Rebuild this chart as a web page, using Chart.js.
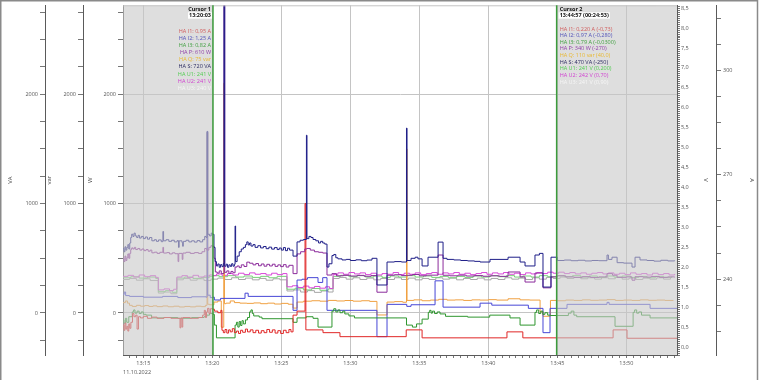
<!DOCTYPE html>
<html><head><meta charset="utf-8">
<script src="https://cdn.jsdelivr.net/npm/chart.js@4"></script>
<style>html,body{margin:0;padding:0;background:#fff}canvas{display:block}</style>
</head><body>
<canvas id="c" width="760" height="380"></canvas>
<script>
// time in minutes after 13:00
const DATE_LABEL = '11.10.2022';
const CURSOR1 = 20.05;   // 13:20:03
const CURSOR2 = 44.95;   // 13:44:57
const POWER_TICKS = [-250,0,250,500,750,1000,1250,1500,1750,2000,2250,2500,2750];
const POWER_LABELS = [0,1000,2000];
const cursor1Text = ['Cursor 1','13:20:03','HA I1: 0,95 A','HA I2: 1,25 A','HA I3: 0,82 A','HA P: 610 W','HA Q: 75 var','HA S: 720 VA','HA U1: 241 V','HA U2: 241 V','HA U3: 240 V'];
const cursor2Text = ['Cursor 2','13:44:57 (00:24:53)','HA I1: 0,220 A (-0,73)','HA I2: 0,97 A (-0,280)','HA I3: 0,79 A (-0,0300)','HA P: 340 W (-270)','HA Q: 110 var (40,0)','HA S: 470 VA (-250)','HA U1: 241 V (0,200)','HA U2: 242 V (0,70)','HA U3: 241 V (0,90)'];

const S_VA = [[13.53,590],[13.60,560],[13.67,605],[13.74,575],[13.81,600],[13.88,625],[13.95,585],[14.02,640],[14.09,690],[14.16,720],[14.25,700],[14.33,730],[14.42,705],[14.52,690],[14.62,710],[14.72,685],[14.85,700],[15.00,680],[15.15,695],[15.30,675],[15.45,690],[15.62,660],[15.80,670],[15.95,655],[16.10,668],[16.30,652],[16.42,745],[16.47,660],[16.65,670],[16.85,655],[17.05,665],[17.25,650],[17.45,662],[17.55,600],[17.60,660],[17.80,645],[17.85,610],[17.90,655],[18.10,665],[18.30,650],[18.50,660],[18.70,648],[18.90,662],[19.10,650],[19.30,670],[19.45,700],[19.55,690],[19.62,1660],[19.67,720],[19.80,705],[19.92,730],[20.00,720],
[20.12,600],[20.20,470],[20.30,430],[20.40,448],[20.50,418],[20.60,442],[20.70,424],[20.80,452],[20.85,3000],[20.90,428],[21.00,446],[21.10,418],[21.20,440],[21.30,426],[21.40,450],[21.50,428],[21.60,445],[21.65,795],[21.69,470],[21.80,520],[21.95,560],[22.10,585],[22.25,600],[22.40,625],[22.50,650],[22.60,622],[22.70,640],[22.80,612],[22.95,625],[23.10,600],[23.30,615],[23.50,595],[23.70,608],[23.90,588],[24.10,602],[24.30,584],[24.50,598],[24.70,580],[24.85,594],[25.00,575],[25.15,598],[25.30,570],[25.45,592],[25.60,575],[25.85,520],[26.14,650],[26.36,665],[26.60,672],[26.82,1625],[26.86,680],[27.00,700],[27.15,690],[27.30,672],[27.50,660],[27.70,640],[27.85,655],[28.00,640],[28.15,630],[28.31,420],[28.45,450],[28.67,525],[28.80,535],[28.95,505],[29.10,495],[29.40,485],[29.70,490],[30.00,480],[30.40,486],[30.80,478],[31.20,484],[31.57,500],[31.93,256],[32.66,466],[33.20,470],[33.70,466],[34.07,1690],[34.11,480],[34.40,500],[34.70,510],[34.90,495],[35.20,430],[35.63,510],[36.36,648],[36.72,500],[37.00,490],[37.50,485],[38.00,480],[38.50,476],[39.00,472],[39.40,466],[40.12,490],[41.43,510],[42.30,466],[42.66,430],[43.38,530],[43.70,545],[43.96,237],[44.54,510],[45.00,480],[45.50,484],[46.00,478],[46.50,482],[47.00,476],[47.50,480],[48.00,478],[48.60,530],[48.70,490],[48.96,510],[49.33,460],[49.80,456],[50.41,420],[50.63,510],[50.99,485],[51.50,480],[52.00,474],[52.50,482],[53.00,476],[53.50,480]];

const P_W = [[13.53,500],[13.60,470],[13.67,520],[13.74,480],[13.81,505],[13.88,540],[13.95,500],[14.02,545],[14.09,580],[14.16,595],[14.25,585],[14.35,600],[14.45,580],[14.60,590],[14.75,575],[14.90,585],[15.05,570],[15.20,580],[15.35,565],[15.50,575],[15.62,550],[15.80,556],[16.00,545],[16.20,555],[16.42,600],[16.47,548],[16.70,552],[16.90,540],[17.10,550],[17.30,542],[17.52,470],[17.57,545],[17.82,490],[17.87,548],[18.10,555],[18.40,545],[18.70,552],[19.00,545],[19.25,560],[19.45,590],[19.60,575],[19.75,600],[19.90,615],[20.00,610],
[20.12,500],[20.22,375],[20.35,365],[20.50,385],[20.65,360],[20.85,2900],[20.90,372],[21.05,385],[21.20,362],[21.35,380],[21.50,368],[21.65,420],[21.80,430],[21.95,415],[22.10,440],[22.30,425],[22.50,465],[22.70,455],[22.95,440],[23.15,452],[23.35,432],[23.55,448],[23.75,428],[23.95,445],[24.15,430],[24.35,446],[24.55,426],[24.75,440],[24.95,424],[25.15,442],[25.35,420],[25.55,436],[25.85,360],[26.14,540],[26.40,560],[26.70,585],[26.85,590],[27.10,575],[27.40,560],[27.70,555],[28.00,548],[28.31,347],[28.67,360],[29.00,340],[29.50,345],[30.00,338],[30.50,344],[31.00,336],[31.50,342],[31.93,190],[32.66,345],[33.20,350],[33.70,342],[34.07,345],[34.50,352],[35.00,340],[35.50,346],[36.36,530],[36.72,345],[37.20,340],[37.80,346],[38.40,338],[39.00,342],[39.60,336],[40.20,340],[40.80,335],[41.43,375],[42.30,330],[42.66,283],[43.38,365],[43.96,230],[44.54,330],[45.00,340],[45.60,330],[46.20,326],[46.80,332],[47.40,325],[48.00,330],[48.60,360],[49.00,345],[49.33,326],[50.00,330],[50.41,300],[50.63,332],[51.20,328],[51.80,334],[52.40,326],[53.00,330],[53.50,326]];

const Q_VAR = [[13.53,95],[13.70,110],[13.85,90],[14.00,70],[14.20,60],[14.50,70],[14.80,62],[15.10,68],[15.40,60],[15.70,65],[16.00,58],[16.40,64],[16.80,57],[17.20,62],[17.60,55],[18.00,60],[18.40,56],[18.80,62],[19.20,58],[19.50,70],[19.62,1650],[19.67,80],[19.80,75],[20.05,75],[20.12,100],[20.40,110],[20.65,-130],[20.83,2100],[20.88,85],[21.00,90],[21.30,110],[21.60,95],[22.00,90],[22.50,88],[23.00,92],[23.50,85],[24.00,90],[24.50,82],[25.00,88],[25.50,80],[25.85,45],[26.14,100],[26.60,108],[27.20,112],[27.80,108],[28.40,115],[29.00,110],[29.60,114],[30.20,108],[30.80,112],[31.40,106],[31.93,-18],[32.66,100],[33.20,104],[33.80,98],[34.07,1500],[34.11,115],[34.60,120],[35.20,112],[35.80,118],[36.40,125],[37.00,118],[37.60,120],[38.20,115],[38.80,120],[39.40,118],[40.00,122],[40.60,118],[41.43,130],[42.30,120],[43.00,118],[43.75,10],[43.96,-30],[44.50,115],[45.00,112],[45.60,118],[46.20,115],[46.80,120],[47.40,116],[48.00,118],[48.60,122],[49.20,115],[49.80,118],[50.40,115],[51.00,120],[51.60,116],[52.20,118],[52.80,115],[53.40,118]];

const I1_A = [[13.53,0.55],[13.60,0.42],[13.67,0.60],[13.74,0.45],[13.81,0.52],[13.88,0.40],[13.95,0.58],[14.02,0.47],[14.10,0.62],[14.22,0.84],[14.32,0.76],[14.45,0.80],[14.55,0.45],[14.65,0.76],[14.80,0.73],[15.00,0.77],[15.30,0.72],[15.60,0.75],[16.00,0.72],[16.50,0.74],[17.00,0.72],[17.66,0.48],[17.72,0.73],[17.80,0.50],[17.86,0.74],[18.40,0.72],[19.00,0.74],[19.30,0.80],[19.42,0.92],[19.50,0.74],[19.58,0.88],[19.66,0.97],[19.76,0.84],[19.86,0.96],[20.05,0.95],
[20.15,0.90],[20.40,0.86],[20.62,0.92],[20.70,0.42],[20.80,0.36],[20.92,0.44],[21.05,0.35],[21.18,0.43],[21.30,0.38],[21.45,0.46],[21.60,0.36],[21.75,0.40],[21.90,0.34],[22.05,0.42],[22.20,0.37],[22.40,0.45],[22.55,0.38],[22.75,0.43],[22.95,0.36],[23.15,0.42],[23.35,0.35],[23.55,0.41],[23.75,0.36],[23.95,0.44],[24.15,0.37],[24.35,0.43],[24.55,0.35],[24.75,0.41],[24.95,0.34],[25.15,0.42],[25.35,0.36],[25.55,0.44],[25.70,0.38],[25.85,0.80],[26.14,0.90],[26.72,3.6],[26.78,0.43],[28.02,0.36],[29.25,0.26],[34.05,0.43],[35.20,0.23],[41.35,0.38],[42.50,0.23],[49.04,0.43],[50.05,0.22],[53.67,0.22]];

const I2_A = [[13.53,1.32],[13.62,1.38],[13.72,1.29],[14.00,1.27],[15.00,1.25],[16.40,1.27],[17.50,1.24],[18.50,1.26],[19.55,1.25],[19.62,5.4],[19.67,1.30],[19.85,1.24],[20.05,1.25],[20.15,1.18],[20.60,1.22],[22.37,1.35],[22.60,1.27],[25.85,0.92],[26.14,1.68],[26.50,1.70],[26.90,1.74],[27.66,1.62],[28.00,1.74],[28.31,0.92],[31.93,0.26],[32.66,1.07],[34.09,1.02],[34.40,1.06],[36.14,1.66],[36.72,1.00],[39.40,1.10],[40.25,1.05],[42.90,0.97],[43.96,0.36],[44.47,0.97],[45.70,1.07],[48.60,1.12],[48.75,1.07],[51.72,0.97],[53.67,0.97]];

const I3_A = [[13.53,0.68],[13.60,0.60],[13.70,0.72],[13.80,0.62],[13.95,0.76],[14.20,0.88],[14.30,0.93],[14.40,0.85],[14.55,0.90],[14.70,0.84],[14.85,0.88],[15.00,0.82],[15.20,0.80],[15.60,0.73],[16.50,0.74],[17.50,0.72],[18.50,0.74],[19.40,0.76],[19.60,0.80],[19.80,0.84],[20.05,0.82],[20.15,0.55],[20.30,0.23],[21.65,0.55],[21.75,0.62],[21.85,0.50],[21.95,0.64],[22.05,0.54],[22.15,0.66],[22.25,0.58],[22.40,0.68],[22.55,0.74],[22.70,0.88],[22.80,0.93],[22.90,0.84],[23.00,0.78],[23.40,0.75],[23.60,0.71],[25.85,0.62],[26.14,0.73],[26.80,0.76],[27.30,0.72],[27.66,0.50],[28.67,0.90],[28.80,0.96],[28.95,0.88],[29.10,0.93],[29.25,0.86],[29.45,0.90],[29.60,0.83],[29.90,0.78],[30.30,0.73],[34.07,0.55],[34.50,0.50],[34.80,0.58],[35.20,0.70],[35.65,0.87],[35.75,0.92],[35.85,0.85],[35.95,0.90],[36.10,0.84],[36.30,0.88],[36.50,0.83],[36.90,0.77],[38.50,0.75],[39.40,0.75],[40.10,0.80],[41.57,0.73],[42.30,0.55],[43.38,0.87],[43.50,0.93],[43.65,0.84],[43.80,0.90],[43.95,0.82],[44.10,0.86],[44.30,0.80],[44.50,0.79],[45.80,0.85],[46.00,0.90],[46.20,0.80],[46.40,0.76],[49.18,0.52],[50.49,0.87],[50.60,0.93],[50.75,0.85],[50.90,0.88],[51.10,0.80],[51.72,0.73],[53.67,0.73]];

const U1_V = [[13.53,240.4],[14.1,240.7],[14.7,240.3],[15.3,240.6],[15.9,240.2],[16.09,236.4],[16.6,236.7],[17.1,236.2],[17.43,240.3],[18.0,240.6],[18.6,240.2],[19.2,240.5],[19.8,240.8],[20.05,241.0],[20.5,240.7],[21.1,241.0],[21.7,240.6],[22.3,240.9],[22.9,240.5],[23.5,240.8],[24.1,240.4],[24.7,240.8],[25.41,237.1],[26.0,237.4],[26.6,236.9],[27.2,237.3],[27.8,236.8],[28.4,237.2],[28.75,240.8],[29.3,241.1],[29.9,240.7],[30.5,241.0],[31.1,240.6],[31.7,240.9],[32.3,240.5],[32.9,240.9],[33.5,240.6],[34.1,241.0],[34.7,240.6],[35.3,240.9],[35.9,240.5],[36.5,240.8],[37.1,240.4],[37.7,240.8],[38.3,240.5],[38.9,240.9],[39.5,240.6],[40.1,241.0],[40.7,240.7],[41.3,241.0],[41.9,240.6],[42.5,240.9],[43.1,240.6],[43.7,241.0],[44.3,240.7],[44.95,241.0],[45.5,240.7],[46.1,241.0],[46.7,240.6],[47.3,240.9],[47.9,240.5],[48.5,240.9],[49.1,240.6],[49.7,240.9],[50.3,240.5],[50.9,240.8],[51.5,240.4],[52.1,240.8],[52.7,240.5],[53.3,240.8]];

const U2_V = [[13.53,240.8],[13.9,241.1],[14.3,240.6],[14.7,241.2],[15.1,240.7],[15.5,241.0],[15.9,240.5],[16.09,236.9],[16.5,237.2],[16.9,236.7],[17.2,237.1],[17.43,240.6],[17.8,241.0],[18.2,240.5],[18.6,241.1],[19.0,240.6],[19.4,240.9],[19.8,241.2],[20.05,241.0],[20.3,241.5],[20.7,241.1],[21.1,241.6],[21.5,241.2],[21.9,241.7],[22.3,241.3],[22.7,241.8],[23.1,241.4],[23.5,241.6],[23.9,241.2],[24.3,241.7],[24.7,241.3],[25.1,241.6],[25.41,237.8],[25.8,238.1],[26.2,237.6],[26.6,238.0],[27.0,237.5],[27.4,237.9],[27.8,237.4],[28.2,237.8],[28.5,237.3],[28.75,241.3],[29.1,241.8],[29.5,241.4],[29.9,241.9],[30.3,241.5],[30.7,241.8],[31.1,241.3],[31.5,241.7],[31.9,241.2],[32.3,241.6],[32.7,241.4],[33.1,241.9],[33.5,241.3],[33.9,241.7],[34.3,241.4],[34.7,241.8],[35.1,241.3],[35.5,241.6],[35.9,241.9],[36.3,241.4],[36.7,241.8],[37.1,241.5],[37.5,241.9],[37.9,241.4],[38.3,241.7],[38.7,241.3],[39.1,241.6],[39.5,241.9],[39.9,241.4],[40.3,241.8],[40.7,241.5],[41.1,241.9],[41.5,241.4],[41.9,241.7],[42.3,241.3],[42.7,241.8],[43.1,241.5],[43.5,241.9],[43.9,241.6],[44.3,242.0],[44.7,241.7],[45.1,242.0],[45.5,241.6],[45.9,241.9],[46.3,241.5],[46.7,241.8],[47.1,241.4],[47.5,241.7],[47.9,241.9],[48.3,241.5],[48.7,241.8],[49.1,241.4],[49.5,241.7],[49.9,241.3],[50.3,241.8],[50.7,241.4],[51.1,241.6],[51.5,241.2],[51.9,241.7],[52.3,241.3],[52.7,241.6],[53.1,241.2],[53.5,241.5]];

const U3_V = [[13.53,239.9],[14.0,240.2],[14.5,239.7],[15.0,240.1],[15.5,239.6],[16.09,236.0],[16.5,236.3],[17.0,235.8],[17.43,239.8],[17.9,240.2],[18.4,239.7],[18.9,240.1],[19.4,239.6],[19.9,240.0],[20.4,240.3],[20.9,239.9],[21.4,240.4],[21.9,239.9],[22.4,240.3],[22.9,239.8],[23.4,240.2],[23.9,239.7],[24.4,240.1],[24.9,239.8],[25.41,236.6],[25.9,236.9],[26.4,236.3],[26.9,236.7],[27.4,236.2],[27.9,236.6],[28.4,236.3],[28.75,240.2],[29.2,240.5],[29.7,240.0],[30.2,240.4],[30.7,239.9],[31.2,240.3],[31.7,239.8],[32.2,240.2],[32.7,239.9],[33.2,240.4],[33.7,239.9],[34.2,240.3],[34.7,239.8],[35.2,240.2],[35.7,239.9],[36.2,240.4],[36.7,240.0],[37.2,240.3],[37.7,239.8],[38.2,240.2],[38.7,239.9],[39.2,240.3],[39.7,239.8],[40.2,240.2],[40.7,239.9],[41.2,240.4],[41.7,240.0],[42.2,240.3],[42.7,239.9],[43.2,240.4],[43.7,240.0],[44.2,240.5],[44.7,240.2],[45.2,240.6],[45.7,240.2],[46.2,240.5],[46.7,240.1],[47.2,240.4],[47.7,240.0],[48.2,240.4],[48.7,240.1],[49.2,240.5],[49.7,240.0],[50.2,240.3],[50.7,239.9],[51.2,240.3],[51.7,240.0],[52.2,240.4],[52.7,240.0],[53.2,240.3]];

// ---------- styles ----------
const FONT = "'Open Sans','Noto Sans',sans-serif";
const TXT = '#555';
const AXIS = '#5a5a5a';
const cursorTextColors = ['#111','#111','#d05a5a','#5050b8','#3e9e3e','#9040a8','#e8b830','#2a2a60','#50cc50','#d040d0','#f6f6f6'];

const toXY = a => a.map(p => ({x: p[0], y: p[1]}));
const line = (label, data, color, axis) => ({label, data: toXY(data), borderColor: color, backgroundColor: color,
  yAxisID: axis, borderWidth: 1, pointRadius: 0, stepped: true, fill: false});

const near = (v, m) => Math.abs(v / m - Math.round(v / m)) < 1e-6;
const yLeft = (weight, title, width, pad) => ({
  type: 'linear', position: 'left', weight, min: -384, max: 2813,
  afterFit: s => { s.width = width; },
  afterBuildTicks: s => { s.ticks = POWER_TICKS.map(v => ({value: v})); },
  ticks: {autoSkip: false, color: TXT, font: {size: 5.5, family: FONT}, padding: 2,
    callback: v => POWER_LABELS.includes(v) ? String(v) : ''},
  grid: {drawOnChartArea: weight === 0,
    color: c => (c.tick && POWER_LABELS.includes(c.tick.value)) ? '#c4c4c4' : 'rgba(0,0,0,0)',
    tickColor: '#777', tickLength: 5},
  border: {color: AXIS},
  title: {display: true, text: title, color: '#444', font: {size: 6, family: FONT}, padding: {top: pad, bottom: 0}}
});

const cursorPlugin = {
  id: 'cursors',
  afterDatasetsDraw(chart) {
    const {ctx, chartArea: a, scales: {x}} = chart;
    const x1 = x.getPixelForValue(CURSOR1), x2 = x.getPixelForValue(CURSOR2);
    ctx.save();
    ctx.fillStyle = 'rgba(200,200,200,0.6)';
    ctx.fillRect(a.left, a.top, x1 - a.left, a.bottom - a.top);
    ctx.fillRect(x2, a.top, a.right - x2, a.bottom - a.top);
    ctx.strokeStyle = '#c4c4c4'; ctx.lineWidth = 1;
    ctx.beginPath(); ctx.moveTo(a.left, a.top + 0.5); ctx.lineTo(a.right, a.top + 0.5); ctx.stroke();
    ctx.strokeStyle = '#3c9c3c'; ctx.lineWidth = 1.5;
    ctx.beginPath(); ctx.moveTo(x1, a.top); ctx.lineTo(x1, a.bottom); ctx.stroke();
    ctx.beginPath(); ctx.moveTo(x2, a.top); ctx.lineTo(x2, a.bottom); ctx.stroke();
    const ys1 = [9, 15.5, 31, 38, 45, 52, 59, 66.5, 74, 81, 88];
    const ys2 = [9, 15.5, 29, 35.6, 42.2, 48.8, 55.4, 62, 68.6, 75.2, 82];
    ctx.textBaseline = 'middle';
    const drawBlock = (lines, ys, xx, align) => {
      ctx.textAlign = align;
      lines.forEach((t, i) => {
        ctx.font = (i < 2 ? 'bold ' : '') + '5.5px ' + FONT;
        if (i === 1) {
          const w = ctx.measureText(t).width;
          ctx.fillStyle = '#fff';
          ctx.fillRect(align === 'right' ? xx - w - 1 : xx - 1, ys[i] - 3.2, w + 2, 6.4);
        }
        ctx.fillStyle = cursorTextColors[i];
        ctx.fillText(t, xx, ys[i]);
      });
    };
    drawBlock(cursor1Text, ys1, x1 - 2, 'right');
    drawBlock(cursor2Text, ys2, x2 + 3, 'left');
    ctx.restore();
  },
  afterDraw(chart) {
    const ctx = chart.ctx;
    ctx.save();
    ctx.strokeStyle = '#8a8a8a'; ctx.lineWidth = 1.5;
    ctx.beginPath(); ctx.moveTo(0, 0.75); ctx.lineTo(758, 0.75); ctx.stroke();
    ctx.beginPath(); ctx.moveTo(0.75, 0); ctx.lineTo(0.75, 380); ctx.stroke();
    ctx.beginPath(); ctx.moveTo(757.5, 0); ctx.lineTo(757.5, 380); ctx.stroke();
    ctx.restore();
  }
};

new Chart(document.getElementById('c'), {
  type: 'line',
  data: {datasets: [
    line('HA S', S_VA, '#1e1e88', 'yVA'),
    line('HA P', P_W, '#8c2c9c', 'yW'),
    line('HA I1', I1_A, '#e02626', 'yA'),
    line('HA I3', I3_A, '#2e962e', 'yA'),
    line('HA I2', I2_A, '#4646d6', 'yA'),
    line('HA Q', Q_VAR, '#f0a040', 'yvar'),
    line('HA U2', U2_V, '#d848d8', 'yV'),
    line('HA U1', U1_V, '#78d078', 'yV'),
    line('HA U3', U3_V, '#a6a6a6', 'yV')
  ]},
  options: {
    responsive: false, animation: false, devicePixelRatio: 1, events: [],
    layout: {padding: {top: 5, left: 0, right: 0, bottom: 0}},
    plugins: {legend: {display: false}, tooltip: {enabled: false}},
    scales: {
      x: {type: 'linear', position: 'bottom', min: 13.53, max: 53.67,
        afterFit: s => { s.height = 25; },
        ticks: {stepSize: 0.5, autoSkip: false, includeBounds: false, maxRotation: 0, maxTicksLimit: 500, color: TXT,
          font: {size: 5.5, family: FONT}, padding: 2,
          callback: v => near(v, 5) ? '13:' + String(Math.round(v)).padStart(2, '0') : ''},
        grid: {color: c => (c.tick && near(c.tick.value, 5)) ? '#c4c4c4' : 'rgba(0,0,0,0)', tickColor: '#777', tickLength: 3},
        border: {color: AXIS},
        title: {display: true, text: DATE_LABEL, align: 'start', color: TXT, font: {size: 5.5, family: FONT}, padding: {top: 0, bottom: 4}}
      },
      yW: yLeft(0, 'W', 40, 4),
      yvar: yLeft(1, 'var', 38, 1),
      yVA: yLeft(2, 'VA', 45, 6.5),
      yA: {type: 'linear', position: 'right', weight: 0, min: -0.2, max: 8.57,
        afterFit: s => { s.width = 39; },
        ticks: {stepSize: 0.05, autoSkip: false, includeBounds: false, maxTicksLimit: 1000, color: TXT, font: {size: 5.5, family: FONT}, padding: 1,
          callback: v => (Math.round(v * 20) % 10 === 0) ? v.toFixed(1).replace('.', ',') : ''},
        grid: {drawOnChartArea: false, tickColor: '#777', tickLength: 3},
        border: {color: AXIS},
        title: {display: true, text: 'V', color: '#444', font: {size: 6, family: FONT}, padding: {top: 6.5, bottom: 0}}
      },
      yV: {type: 'linear', position: 'right', weight: 1, min: 218.2, max: 318.7,
        afterFit: s => { s.width = 44; },
        ticks: {stepSize: 7.5, autoSkip: false, includeBounds: false, maxTicksLimit: 100, color: TXT, font: {size: 5.5, family: FONT}, padding: 2,
          callback: v => near(v, 30) ? String(v) : ''},
        grid: {drawOnChartArea: false, tickColor: '#777', tickLength: 5},
        border: {color: AXIS},
        title: {display: true, text: 'A', color: '#444', font: {size: 6, family: FONT}, padding: {top: 5, bottom: 0}}
      }
    }
  },
  plugins: [cursorPlugin]
});
</script>
</body></html>
